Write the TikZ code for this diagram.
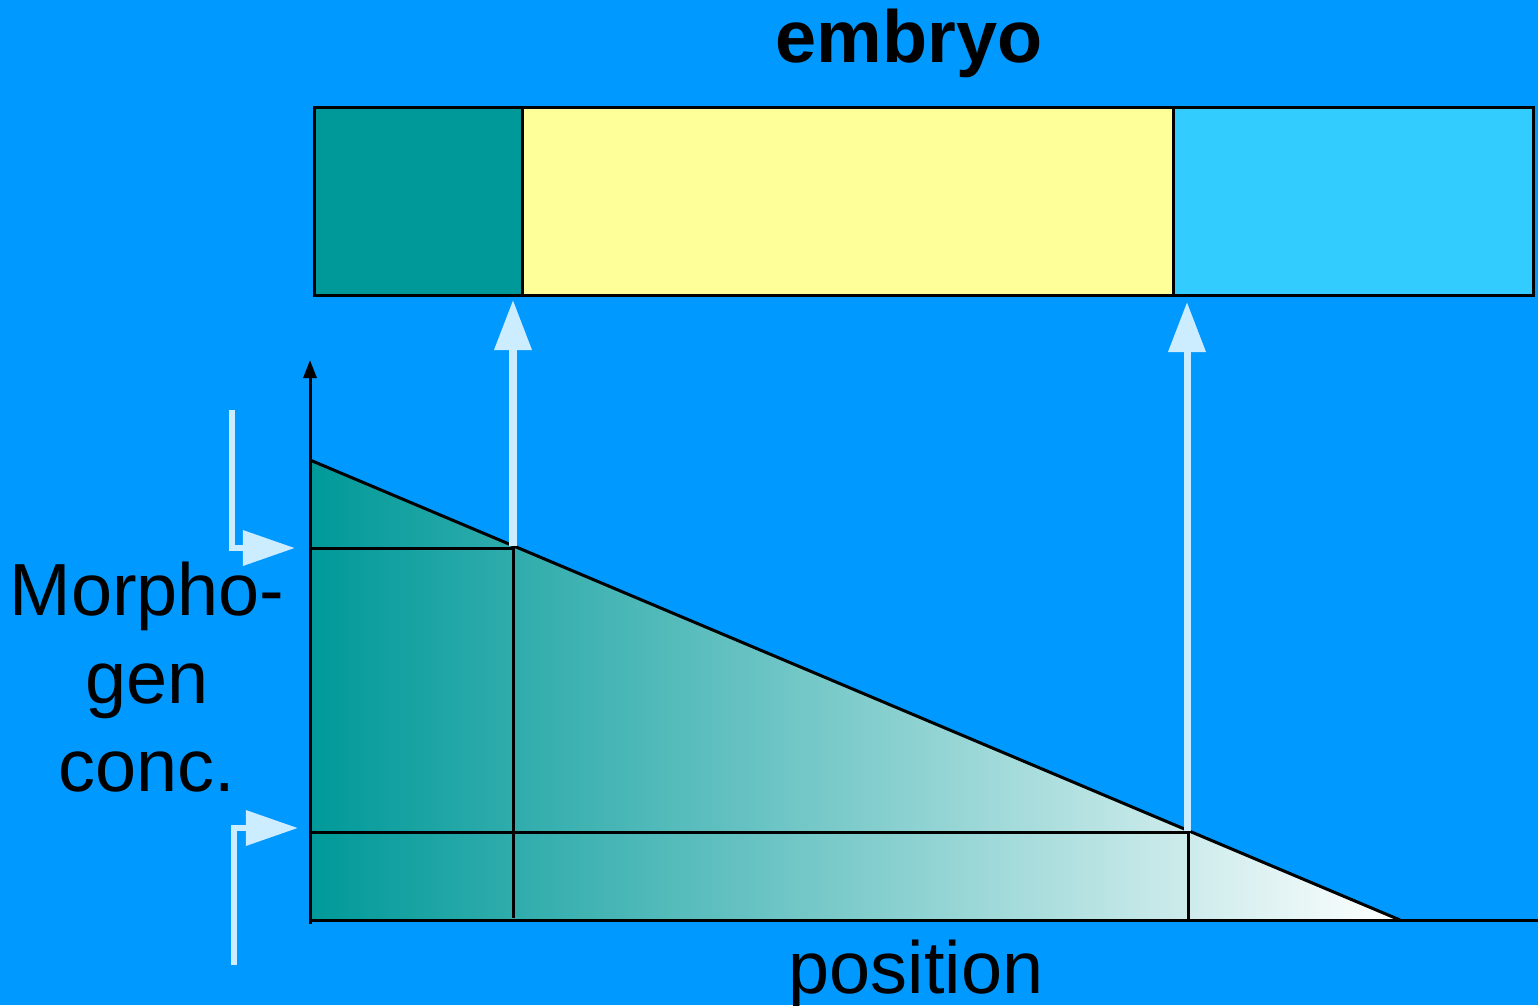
\documentclass[tikz,border=0pt]{standalone}
\usepackage{fontspec}
\setmainfont{Liberation Sans}
\usetikzlibrary{arrows.meta}
\definecolor{bgblue}{RGB}{0,153,255}
\definecolor{tealseg}{RGB}{0,153,153}
\definecolor{yelseg}{RGB}{255,255,153}
\definecolor{cyanseg}{RGB}{51,204,255}
\definecolor{lightarr}{RGB}{204,236,255}
\tikzset{
  seg/.style={draw=black, line width=0.03cm, rectangle, inner sep=0pt, anchor=north west, minimum height=1.88cm},
  thin/.style={draw=black, line width=0.03cm},
  uparr/.style={draw=lightarr, line width=0.07cm, -{Triangle[length=0.5cm,width=0.36cm]}, lightarr},
  sidearr/.style={draw=lightarr, line width=0.065cm, -{Triangle[length=0.52cm,width=0.34cm]}, lightarr},
  lbl/.style={font=\fontsize{21}{25}\selectfont, inner sep=0pt, anchor=base, text=black},
}
\begin{document}
\begin{tikzpicture}[x=0.01cm,y=-0.01cm]
\fill[bgblue] (0,0) rectangle (1538,1005);
\useasboundingbox (0,0) rectangle (1538,1005);

% title
\node[lbl] (title) at (909,62) {\bfseries embryo};

% embryo bar
\node[seg, fill=tealseg, minimum width=2.08cm] (ant) at (313,106) {};
\node[seg, fill=yelseg, minimum width=6.51cm] (mid) at (521,106) {};
\node[seg, fill=cyanseg, minimum width=3.60cm] (post) at (1172,106) {};

% gradient profile
\coordinate (top) at (310,460);
\coordinate (end) at (1400,920);
\coordinate (orig) at (310,920);
\shade[left color=tealseg, right color=white] (top) -- (end) -- (orig) -- cycle;
\draw[thin] (top) -- (end);

% thresholds
\coordinate (p1) at (513,546);
\coordinate (p2) at (1187,831);
\draw[thin] (310,548) -- (513,548) -- (513,918);
\draw[thin] (310,832) -- (1188,832) -- (1188,920);

% axes
\coordinate (ytop) at (310,360);
\coordinate (xend) at (1545,920);
\draw[thin, -{Triangle[length=0.18cm,width=0.13cm]}] (orig) ++(0,4) -- (ytop);
\draw[thin] (orig) -- (xend);

% upward arrows to embryo boundaries
\coordinate (a1) at (513,300);
\coordinate (a2) at (1187,302);
\draw[uparr] (p1) -- (a1);
\draw[uparr] (p2) -- (a2);

% threshold side arrows
\coordinate (s1) at (232,410);
\coordinate (t1) at (295,548);
\coordinate (s2) at (234,965);
\coordinate (t2) at (298,828);
\draw[sidearr] (s1) |- (t1);
\draw[sidearr] (s2) |- (t2);

% axis labels
\node[lbl] (ylab1) at (147,615) {Morpho-};
\node[lbl] (ylab2) at (147,703) {gen};
\node[lbl] (ylab3) at (147,791) {conc.};
\node[lbl] (xlab) at (916,993) {position};
\end{tikzpicture}
\end{document}
